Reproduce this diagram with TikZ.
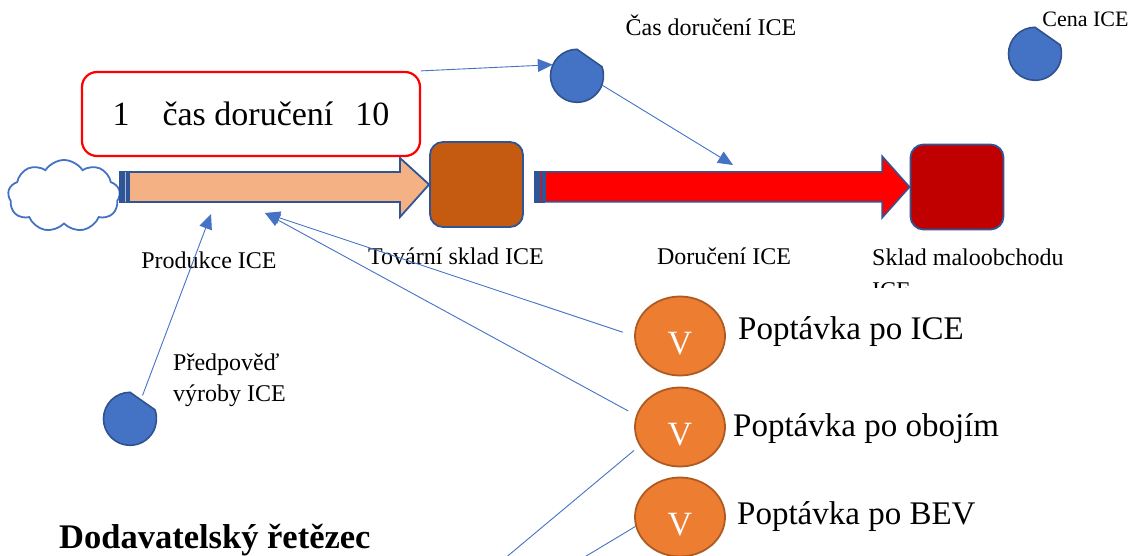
\documentclass[tikz,border=0pt]{standalone}
\usepackage{fontspec}
\setmainfont{Liberation Serif}
\usetikzlibrary{shapes.geometric}
\usetikzlibrary{shapes.symbols}
\usetikzlibrary{arrows.meta}
\usetikzlibrary{positioning}
\definecolor{auxblue}{HTML}{4472C4}
\definecolor{auxedge}{HTML}{2F528F}
\definecolor{linkblue}{HTML}{4472C4}
\definecolor{flowedge}{HTML}{2F5597}
\definecolor{peach}{HTML}{F4B183}
\definecolor{brownstock}{HTML}{C55A11}
\definecolor{redstock}{HTML}{C00000}
\definecolor{vorange}{HTML}{ED7D31}
\definecolor{vedge}{HTML}{AE5A21}
\tikzset{ link/.style = {draw=linkblue, line width=0.9pt, -{Triangle[length=15pt,width=13pt]}} }
\tikzset{ plainlink/.style = {draw=linkblue, line width=0.9pt} }
\tikzset{ stock/.style = {rectangle, rounded corners=13pt, draw=flowedge, line width=1.8pt, minimum width=93pt, minimum height=85pt} }
\tikzset{ auxnode/.style = {circle, minimum size=53pt, inner sep=0pt} }
\tikzset{ auxfill/.style = {draw=auxedge, fill=auxblue, line width=1.6pt} }
\tikzset{ demand/.style = {ellipse, draw=vedge, fill=vorange, line width=1.8pt, minimum width=90pt, minimum height=79pt, inner sep=0pt, text=white, font=\fontsize{34}{40}\selectfont, text height=36pt, text depth=0pt} }
\tikzset{ lbl/.style = {inner sep=0pt, font=\fontsize{24}{31}\selectfont} }
\tikzset{ biglbl/.style = {inner sep=0pt, font=\fontsize{33}{38}\selectfont} }

\begin{document}
\begin{tikzpicture}[x=1pt, y=1pt]
    \useasboundingbox (0,0) rectangle (1135,-556);
    \clip (0,0) rectangle (1135,-556);
    % stocks and source
    \node[cloud, cloud puffs=9, cloud puff arc=115, cloud ignores aspect, draw=linkblue, line width=1.8pt, fill=white, minimum width=112pt, minimum height=72pt, inner sep=0pt] (source) at (64,-196) {};
    \node[stock, fill=brownstock] (factory) at (476.5,-184.5) {};
    \node[stock, fill=redstock] (retail) at (957,-187) {};
    % flows
    \draw[flowedge, line width=1.8pt, fill=peach] (129,-172) -- (400,-172) -- (400,-158) -- (factory.west) -- (400,-217) -- (400,-202) -- (129,-202) -- cycle;
    \fill[flowedge] (119,-171) rectangle (130,-203);
    \draw[white!60!flowedge, line width=0.6pt] (125,-172) -- (125,-202);
    \draw[flowedge, line width=1.5pt, fill=red] (545,-172) -- (882,-172) -- (882,-156) -- (retail.west) -- (882,-218) -- (882,-202) -- (545,-202) -- cycle;
    \fill[flowedge] (534,-171) rectangle (545,-203);
    \draw[red, line width=0.8pt] (541,-172) -- (541,-202);
    % slider
    \node[draw=red, line width=2.2pt, fill=white, rounded corners=15pt, minimum width=338pt, minimum height=84pt, inner sep=0pt, font=\fontsize{34}{40}\selectfont] (timebox) at (251,-114) {1\hspace{33pt}čas doručení\hspace{22pt}10};
    % auxiliaries
    \node[auxnode] (casaux) at (577,-76) {};
    \node[auxnode] (cenaaux) at (1035,-54) {};
    \node[auxnode] (predaux) at (130,-419) {};
    \foreach \n in {casaux, cenaaux, predaux}
        \draw[auxfill] (\n.90) arc[start angle=90, end angle=380, radius=26.5pt] -- cycle;
    \node[demand] (vice) at (680,-336) {V};
    \node[demand] (vboth) at (680,-427) {V};
    \node[demand] (vbev) at (680,-517) {V};
    % labels
    \node[lbl, anchor=base] (caslbl) at (711,-36) {Čas doručení ICE};
    \node[lbl, anchor=base, font=\fontsize{22}{28}\selectfont] (cenalbl) at (1085.5,-26.5) {Cena ICE};
    \node[lbl, anchor=base] (prodlbl) at (209,-268) {Produkce ICE};
    \node[lbl, anchor=base] (factorylbl) at (456,-264) {Tovární sklad ICE};
    \node[lbl, anchor=base] (dellbl) at (724,-264) {Doručení ICE};
    \begin{scope}
        \clip (860,-240) rectangle (1135,-287);
        \node[lbl, anchor=north west, align=left, font=\fontsize{24}{33}\selectfont] (retaillbl) at (872,-248.5) {Sklad maloobchodu\\ICE};
    \end{scope}
    \node[lbl, anchor=north west, align=left] (predlbl) at (173,-353.5) {Předpověď\\výroby ICE};
    \node[biglbl, anchor=base west] (icelbl) at (738,-339.5) {Poptávka po ICE};
    \node[biglbl, anchor=base west] (bothlbl) at (733,-436.5) {Poptávka po obojím};
    \node[biglbl, anchor=base west] (bevlbl) at (737,-524.5) {Poptávka po BEV};
    \node[inner sep=0pt, anchor=base west, font=\bfseries\fontsize{34.5}{40}\selectfont] (title) at (59,-548) {Dodavatelský řetězec};
    % links
    \coordinate (delin) at (733,-165);
    \coordinate (prodin) at (211,-214);
    \coordinate (demin) at (265,-213);
    \coordinate (bevout1) at (455,-600);
    \coordinate (bevout2) at (513,-600);
    \draw[link] (timebox.north east) -- (casaux.155);
    \draw[link] (casaux.-20) -- (delin);
    \draw[link] (predaux.62) -- (prodin);
    \draw[link, shorten <=12pt] (vice.west) -- (demin);
    \draw[link, shorten <=9pt] (vboth.165) -- (demin);
    \draw[plainlink, shorten <=7pt] (vboth.205) -- (bevout1);
    \draw[plainlink] (vbev.192) -- (bevout2);
\end{tikzpicture}
\end{document}
